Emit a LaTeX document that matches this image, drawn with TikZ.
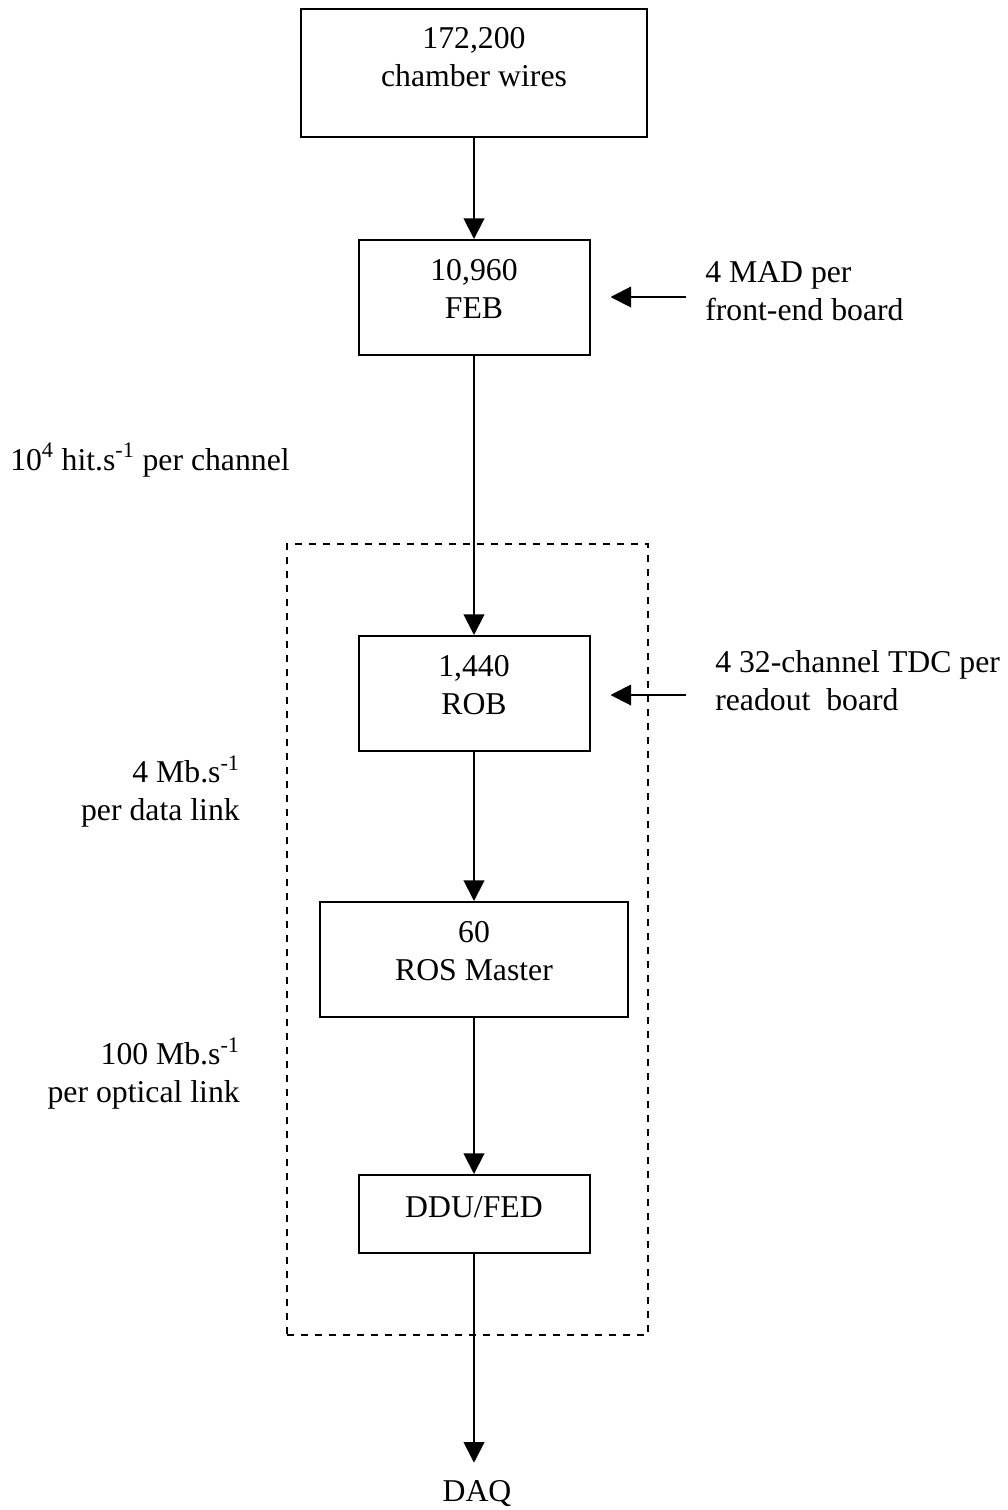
\documentclass[tikz,border=0pt]{standalone}
\usepackage{fontspec}
\setmainfont{Liberation Serif}
\usetikzlibrary{arrows.meta}
\usetikzlibrary{calc}

\begin{document}
\begin{tikzpicture}[x=0.75pt,y=0.75pt,yscale=-1,xscale=1,
  box/.style={draw, line width=1.5pt, inner sep=0pt},
  dashbox/.style={draw, line width=1.5pt, dash pattern=on 5.5pt off 5pt, inner sep=0pt},
  txt/.style={inner sep=0pt, align=center, font=\fontsize{23.8}{28.5}\selectfont},
  flow/.style={line width=1.5pt, -{Triangle[length=15.5pt,width=15.5pt]}}]
\useasboundingbox (0,0) rectangle (1007,1510);

%Boxes
\node [box, minimum width=259.5pt, minimum height=96pt] (wires) at (474,73) {};
\node [box, minimum width=173.25pt, minimum height=86.25pt] (feb) at (474,297.5) {};
\node [box, minimum width=173.25pt, minimum height=86.25pt] (rob) at (474,693.5) {};
\node [box, minimum width=231pt, minimum height=86.25pt] (ros) at (474,959.5) {};
\node [box, minimum width=173.25pt, minimum height=58.5pt] (ddu) at (474,1214) {};
%Dashed frame round the readout chain
\node [dashbox, minimum width=270.75pt, minimum height=593.25pt] (readout) at (467.5,939.5) {};

% Text in the boxes
\node [txt] (wirestxt) at (474,57.5) {172,200\\chamber wires};
\node [txt] (febtxt) at (474,289) {10,960\\FEB};
\node [txt] (robtxt) at (474,685) {1,440\\ROB};
\node [txt] (rostxt) at (474,951.5) {60\\ROS Master};
\node [txt] (ddutxt) at (474,1207) {DDU/FED};
\node [txt, anchor=base] (daq) at (477,1501) {DAQ};

% Side notes
\node [txt, align=left, anchor=west] (mad) at (705,291) {4 MAD per\\front-end board};
\node [txt, align=left, anchor=west] (tdc) at (715,681) {4 32-channel TDC per\\readout\ \ board};
\node [txt, anchor=base west] (hits) at (10,470) {10\textsuperscript{4} hit.s\textsuperscript{-1} per channel};
\node [txt, align=right, anchor=east] (datalink) at (240,792) {4 Mb.s\textsuperscript{-1}\\per data link};
\node [txt, align=right, anchor=east] (optlink) at (240,1074) {100 Mb.s\textsuperscript{-1}\\per optical link};

% Arrows
\draw [flow] (wires.south) -- (feb.north);
\draw [flow] (feb.south) -- (rob.north);
\draw [flow] (rob.south) -- (ros.north);
\draw [flow] (ros.south) -- (ddu.north);
\draw [flow, shorten >=12.75pt] (ddu.south) -- (ddu.south |- daq.north);

\coordinate (madtail) at (686,297);
\coordinate (tdctail) at (686,695);
\draw [flow, shorten >=15pt] (madtail) -- (madtail -| feb.east);
\draw [flow, shorten >=15pt] (tdctail) -- (tdctail -| rob.east);

\end{tikzpicture}
\end{document}
